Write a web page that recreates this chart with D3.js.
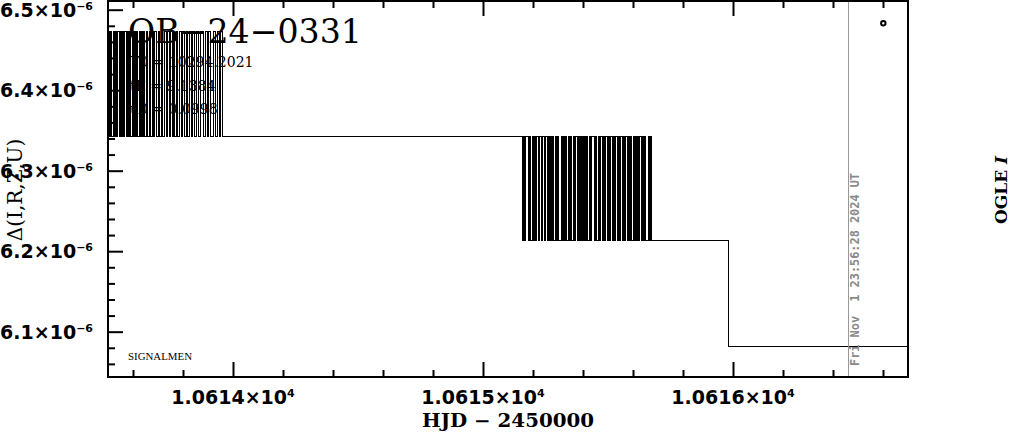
<!DOCTYPE html>
<html>
<head>
<meta charset="utf-8">
<script src="https://cdn.jsdelivr.net/npm/d3@7"></script>
<style>
  html, body { margin: 0; padding: 0; background: #fff; }
  svg { display: block; }
  text { white-space: pre; }
</style>
</head>
<body>
<svg id="chart" width="1011" height="434"></svg>
<script>
// ---------------- DATA ----------------
// HJD - 2450000 and flux (in units of 1e-6)
const hjdA = [10613.49,
  10613.502, 10613.506, 10613.510, 10613.514, 10613.522, 10613.526, 10613.530, 10613.534, 10613.538, 10613.546,
  10613.550, 10613.554, 10613.558, 10613.562, 10613.566, 10613.574, 10613.578, 10613.582, 10613.586, 10613.590,
  10613.598, 10613.602, 10613.606, 10613.610, 10613.614, 10613.618, 10613.626, 10613.630, 10613.634, 10613.638,
  10613.642, 10613.646, 10613.654, 10613.658, 10613.666, 10613.670, 10613.678, 10613.682, 10613.686, 10613.694,
  10613.702, 10613.706, 10613.714, 10613.718, 10613.726, 10613.734, 10613.738, 10613.746, 10613.750, 10613.758,
  10613.762, 10613.766, 10613.774, 10613.778, 10613.786, 10613.794, 10613.798, 10613.806, 10613.814, 10613.818,
  10613.826, 10613.834, 10613.838, 10613.846, 10613.854, 10613.862, 10613.870, 10613.882, 10613.890, 10613.898,
  10613.902, 10613.910, 10613.922, 10613.930, 10613.938, 10613.946, 10613.950, 10613.958];
const fluxA = [6.343,
  6.473, 6.343, 6.473, 6.343, 6.473, 6.343, 6.473, 6.343, 6.473, 6.343, 6.473, 6.343, 6.473, 6.343, 6.473, 6.343, 6.473, 6.343, 6.473, 6.343, 6.473, 6.343, 6.473, 6.343, 6.473, 6.343,
  6.473, 6.343, 6.473, 6.343, 6.473, 6.343, 6.473, 6.343, 6.473, 6.343, 6.473, 6.343, 6.473, 6.343, 6.473, 6.343, 6.473, 6.343, 6.473, 6.343, 6.473, 6.343, 6.473, 6.343, 6.473, 6.343,
  6.473, 6.343, 6.473, 6.343, 6.473, 6.343, 6.473, 6.343, 6.473, 6.343, 6.473, 6.343, 6.473, 6.343, 6.473, 6.343, 6.473, 6.343, 6.473, 6.343, 6.473, 6.343, 6.473, 6.343, 6.473, 6.343];

const hjdB = [
  10615.158, 10615.162, 10615.166, 10615.170, 10615.182, 10615.186, 10615.190, 10615.198, 10615.202, 10615.206,
  10615.210, 10615.214, 10615.222, 10615.226, 10615.234, 10615.238, 10615.246, 10615.250, 10615.258, 10615.262,
  10615.266, 10615.270, 10615.274, 10615.278, 10615.282, 10615.290, 10615.294, 10615.298, 10615.302, 10615.314,
  10615.318, 10615.322, 10615.326, 10615.330, 10615.334, 10615.342, 10615.346, 10615.350, 10615.354, 10615.362,
  10615.366, 10615.370, 10615.378, 10615.382, 10615.386, 10615.390, 10615.394, 10615.398, 10615.402, 10615.406,
  10615.410, 10615.414, 10615.418, 10615.426, 10615.430, 10615.434, 10615.446, 10615.450, 10615.454, 10615.462,
  10615.466, 10615.470, 10615.478, 10615.482, 10615.486, 10615.490, 10615.498, 10615.502, 10615.506, 10615.510,
  10615.518, 10615.522, 10615.526, 10615.530, 10615.538, 10615.542, 10615.546, 10615.550, 10615.558, 10615.562,
  10615.566, 10615.570, 10615.578, 10615.582, 10615.586, 10615.590, 10615.594, 10615.602, 10615.606, 10615.610,
  10615.614, 10615.618, 10615.622, 10615.626, 10615.634, 10615.638, 10615.642, 10615.646, 10615.650, 10615.662,
  10615.666, 10615.670, 10615.674];
const fluxB = [
  6.213, 6.343, 6.213, 6.343, 6.213, 6.343, 6.213, 6.343, 6.213, 6.343, 6.213, 6.343, 6.213, 6.343, 6.213, 6.343, 6.213, 6.343, 6.213, 6.343, 6.213, 6.343, 6.213, 6.343, 6.213, 6.343, 6.213, 6.343, 6.213, 6.343, 6.213, 6.343, 6.213, 6.343,
  6.213, 6.343, 6.213, 6.343, 6.213, 6.343, 6.213, 6.343, 6.213, 6.343, 6.213, 6.343, 6.213, 6.343, 6.213, 6.343, 6.213, 6.343, 6.213, 6.343, 6.213, 6.343, 6.213, 6.343, 6.213, 6.343, 6.213, 6.343, 6.213, 6.343, 6.213, 6.343, 6.213, 6.343,
  6.213, 6.343, 6.213, 6.343, 6.213, 6.343, 6.213, 6.343, 6.213, 6.343, 6.213, 6.343, 6.213, 6.343, 6.213, 6.343, 6.213, 6.343, 6.213, 6.343, 6.213, 6.343, 6.213, 6.343, 6.213, 6.343, 6.213, 6.343, 6.213, 6.343, 6.213, 6.343, 6.213, 6.343,
  6.213];

const hjdC = [10615.982, 10616.75];
const fluxC = [6.081, 6.081];

const fluxUnit = 1e-6;

// axis ticks
const xMajor = [10614, 10615, 10616];
const xMinor = [10613.6, 10613.8, 10614.2, 10614.4, 10614.6, 10614.8, 10615.2, 10615.4, 10615.6, 10615.8, 10616.2, 10616.4, 10616.6];
const xTickLabels = ["1.0614×10", "1.0615×10", "1.0616×10"];
const xTickExp = "4";
const yMajor = [6.1, 6.2, 6.3, 6.4, 6.5];
const yMinor = [6.06, 6.08, 6.12, 6.14, 6.16, 6.18, 6.22, 6.24, 6.26, 6.28, 6.32, 6.34, 6.36, 6.38, 6.42, 6.44, 6.46, 6.48];
const yTickLabels = ["6.1×10", "6.2×10", "6.3×10", "6.4×10", "6.5×10"];
const yTickExp = "−6";

const titleText = "OB−24−0331";
const infoLines = ["T0 = 10294.2021", "tE = 9.1384", "u0 = 0.0998"];
const xLabel = "HJD − 2450000";
const yLabel = "Δ(I,R,Z,U)";
const sideLabel = "OGLE ";
const sideLabelItalic = "I";
const dateText = "Fri Nov  1 23:56:28 2024 UT";
const signature = "SIGNALMEN";
const nowHJD = 10616.4612;
const markerPoint = [10616.6012, 6.4831];

// ---------------- CHART ----------------
const svg = d3.select("#chart");
const L = 108, R = 908, T = 1, B = 377;

const x = d3.scaleLinear().domain([10613.5, 10616.7]).range([L, R]);
const y = d3.scaleLinear().domain([6.0437 * fluxUnit, 6.5108 * fluxUnit]).range([B, T]);

const data = [];
hjdA.forEach((t, i) => data.push({t, f: fluxA[i]}));
hjdB.forEach((t, i) => data.push({t, f: fluxB[i]}));
hjdC.forEach((t, i) => data.push({t, f: fluxC[i]}));

svg.append("defs").append("clipPath").attr("id", "plotclip")
  .append("rect").attr("x", L).attr("y", T).attr("width", R - L).attr("height", B - T);

// text inside plot (under data)
svg.append("text").attr("x", 128).attr("y", 43)
  .attr("font-family", "DejaVu Serif").attr("font-size", 33).attr("fill", "#000")
  .attr("textLength", 234).attr("lengthAdjust", "spacingAndGlyphs")
  .text(titleText);

const infoY = [67, 91, 114];
infoLines.forEach((s, i) => {
  svg.append("text").attr("x", 130).attr("y", infoY[i])
    .attr("font-family", "DejaVu Serif").attr("font-size", 14).attr("fill", "#000")
    .text(s);
});

svg.append("text").attr("x", 128).attr("y", 360)
  .attr("font-family", "Liberation Serif").attr("font-size", 10.5).attr("fill", "#000")
  .attr("textLength", 64).attr("lengthAdjust", "spacingAndGlyphs")
  .text(signature);

// data line
const line = d3.line()
  .x(d => x(d.t))
  .y(d => y(d.f * fluxUnit))
  .curve(d3.curveStepAfter);

svg.append("path").datum(data)
  .attr("clip-path", "url(#plotclip)")
  .attr("d", line)
  .attr("fill", "none").attr("stroke", "#000").attr("stroke-width", 1)
  .attr("shape-rendering", "crispEdges");

// "now" line
svg.append("line")
  .attr("x1", x(nowHJD)).attr("x2", x(nowHJD)).attr("y1", T).attr("y2", B)
  .attr("stroke", "#999").attr("stroke-width", 1).attr("shape-rendering", "crispEdges");

// marker
svg.append("circle")
  .attr("cx", x(markerPoint[0])).attr("cy", y(markerPoint[1] * fluxUnit)).attr("r", 2.2)
  .attr("fill", "none").attr("stroke", "#000").attr("stroke-width", 2);

// date text
svg.append("text")
  .attr("transform", `translate(859,366) rotate(-90)`)
  .attr("font-family", "DejaVu Sans Mono").attr("font-weight", "bold").attr("font-size", 12)
  .attr("fill", "#8a8a8a")
  .attr("textLength", 193).attr("lengthAdjust", "spacingAndGlyphs")
  .text(dateText);

// axes (ticks only)
function styleAxis(g) {
  g.select(".domain").remove();
  g.selectAll(".tick line").attr("stroke", "#000").attr("stroke-width", 2);
  g.selectAll(".tick text").remove();
}
svg.append("g").attr("transform", `translate(0,${B})`)
  .call(d3.axisBottom(x).tickValues(xMajor).tickSize(-15).tickFormat("")).call(styleAxis);
svg.append("g").attr("transform", `translate(0,${B})`)
  .call(d3.axisBottom(x).tickValues(xMinor).tickSize(-7).tickFormat("")).call(styleAxis);
svg.append("g").attr("transform", `translate(0,${T})`)
  .call(d3.axisTop(x).tickValues(xMajor).tickSize(-15).tickFormat("")).call(styleAxis);
svg.append("g").attr("transform", `translate(0,${T})`)
  .call(d3.axisTop(x).tickValues(xMinor).tickSize(-7).tickFormat("")).call(styleAxis);
svg.append("g").attr("transform", `translate(${L},0)`)
  .call(d3.axisLeft(y).tickValues(yMajor.map(v => v * fluxUnit)).tickSize(-15).tickFormat("")).call(styleAxis);
svg.append("g").attr("transform", `translate(${L},0)`)
  .call(d3.axisLeft(y).tickValues(yMinor.map(v => v * fluxUnit)).tickSize(-7).tickFormat("")).call(styleAxis);

// frame
svg.append("rect").attr("x", L).attr("y", T).attr("width", R - L).attr("height", B - T)
  .attr("fill", "none").attr("stroke", "#000").attr("stroke-width", 2);

// x tick labels
xMajor.forEach((v, i) => {
  const t = svg.append("text").attr("x", x(v)).attr("y", 404)
    .attr("text-anchor", "middle")
    .attr("font-family", "DejaVu Sans").attr("font-weight", "bold").attr("font-size", 19).attr("fill", "#000");
  t.append("tspan").text(xTickLabels[i]);
  t.append("tspan").attr("dy", -7).attr("font-size", 11).text(xTickExp);
});

// y tick labels
yMajor.forEach((v, i) => {
  const yy = y(v * fluxUnit);
  const t = svg.append("text").attr("x", 93).attr("y", yy + 7)
    .attr("text-anchor", "end")
    .attr("font-family", "DejaVu Sans").attr("font-weight", "bold").attr("font-size", 19).attr("fill", "#000");
  t.append("tspan").text(yTickLabels[i]);
  t.append("tspan").attr("dy", -7).attr("font-size", 11).text(yTickExp);
});

// axis titles
svg.append("text").attr("x", 508).attr("y", 427).attr("text-anchor", "middle")
  .attr("font-family", "DejaVu Serif").attr("font-weight", "bold").attr("font-size", 18).attr("fill", "#000")
  .attr("textLength", 172).attr("lengthAdjust", "spacingAndGlyphs")
  .text(xLabel);

svg.append("text").attr("transform", "translate(22,190) rotate(-90)").attr("text-anchor", "middle")
  .attr("font-family", "DejaVu Serif").attr("font-size", 20).attr("fill", "#000")
  .text(yLabel);

const side = svg.append("text").attr("transform", "translate(1007,190) rotate(-90)").attr("text-anchor", "middle")
  .attr("font-family", "DejaVu Serif").attr("font-weight", "bold").attr("font-size", 17).attr("fill", "#000");
side.append("tspan").text(sideLabel);
side.append("tspan").attr("font-style", "italic").text(sideLabelItalic);
</script>
</body>
</html>
